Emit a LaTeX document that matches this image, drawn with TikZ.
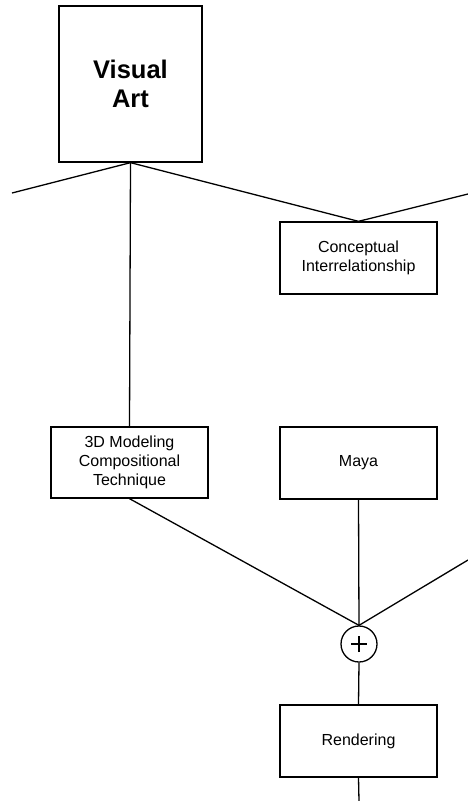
\documentclass[tikz,border=0pt]{standalone}
\usepackage{fontspec}
\setmainfont{Liberation Sans}
\begin{document}
\begin{tikzpicture}[x=1pt,y=-1pt,
  box/.style={draw,line width=1.3pt,rectangle,inner sep=0pt,align=center,
    font=\fontsize{16}{19}\selectfont,minimum width=157,minimum height=72},
  bigbox/.style={box,minimum width=143,minimum height=156,
    font=\fontsize{25.5}{29}\selectfont\bfseries},
  sumnode/.style={draw,line width=1.3pt,circle,minimum size=36,inner sep=0pt},
  link/.style={line width=1.3pt}]
\useasboundingbox (0,0) rectangle (468,801);
\fill[white] (0,0) rectangle (468,801);

% boxes
\node[bigbox] (visual) at (130.5,84) {Visual\\Art};
\node[box] (concept) at (358.5,258) {Conceptual\\Interrelationship};
\node[box,minimum height=71] (model) at (129.5,462.5) {3D Modeling\\Compositional\\Technique};
\node[box] (maya) at (358.5,463) {Maya};
\node[sumnode] (plus) at (359,644) {};
\node[box] (render) at (358.5,741) {Rendering};

% loose ends leaving the frame
\coordinate (leftend) at (12,193);
\coordinate (rightend) at (468,194);
\coordinate (rightlow) at (468,560);
\coordinate (bottomend) at (359,801);

% plus sign
\draw[line width=2pt] ([xshift=-8]plus.center) -- ([xshift=8]plus.center);
\draw[line width=2pt] ([yshift=-8]plus.center) -- ([yshift=8]plus.center);

% connectors
\draw[link] (visual.south) -- (leftend);
\draw[link] (visual.south) -- (model.north);
\draw[link] (visual.south) -- (concept.north);
\draw[link] (concept.north) -- (rightend);
\draw[link] (model.south) -- (plus.north);
\draw[link] (maya.south) -- (plus.north);
\draw[link] (rightlow) -- (plus.north);
\draw[link] (plus.south) -- (render.north);
\draw[link] (render.south) -- (bottomend);
\end{tikzpicture}
\end{document}
